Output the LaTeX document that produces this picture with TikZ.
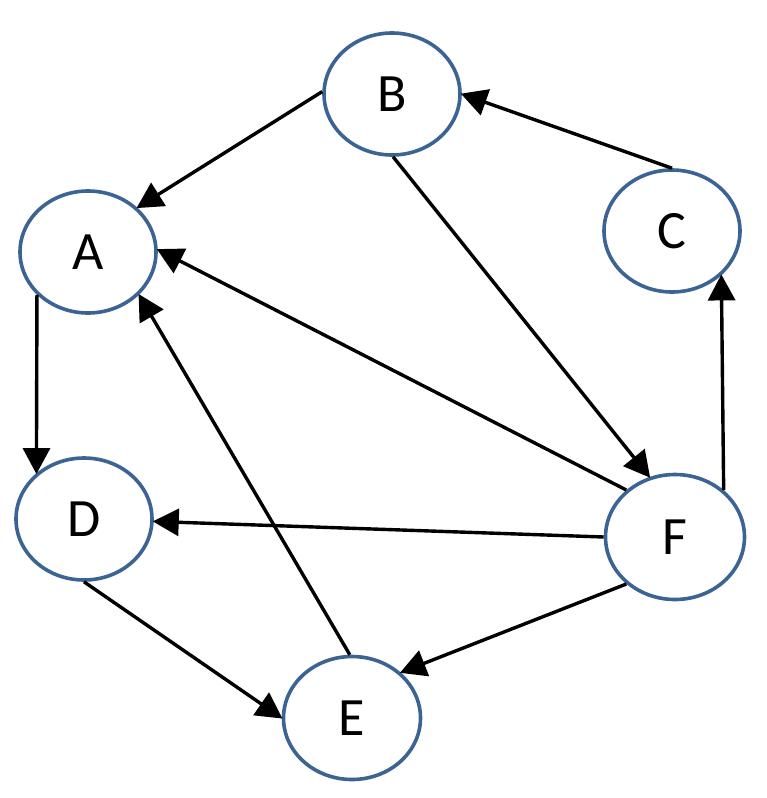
\documentclass[tikz,border=0pt]{standalone}
\usepackage{fontspec}
\setmainfont{Carlito}
\usetikzlibrary{shapes.geometric,arrows.meta}
\definecolor{nodeblue}{HTML}{3B6494}
\tikzset{
  vtx/.style={ellipse,draw=nodeblue,line width=3.6pt,fill=white,minimum width=136pt,minimum height=122pt,inner sep=0pt,font=\fontsize{54}{54}\selectfont},
  arr/.style={line width=3.4pt,-{Triangle[length=26pt,width=27pt]},shorten >=-1pt}
}
\begin{document}
\begin{tikzpicture}[x=1pt,y=-1pt]
\useasboundingbox (0,0) rectangle (766,798);
\node[vtx] (B) at (392,94) {B};
\node[vtx] (A) at (88,252) {A};
\node[vtx] (C) at (672,231) {C};
\node[vtx] (D) at (84,519) {D};
\node[vtx,minimum width=139pt,minimum height=125pt] (F) at (675,537) {F};
\node[vtx,minimum width=137pt,minimum height=123pt] (E) at (352,718) {E};
\draw[arr] (B.178) -- (A.42);
\draw[arr] (C.90) -- (B.0);
\draw[arr] (B.-89) -- (F.113);
\draw[arr] (F.136) -- (A.2);
\draw[arr] (E.92) -- (A.-40);
\draw[arr] (A.220) -- (D.136);
\draw[arr] (F.180) -- (D.358);
\draw[arr] (D.270) -- (E.180);
\draw[arr] (F.224) -- (E.43);
\draw[arr] (F.44) -- (C.318);
\end{tikzpicture}
\end{document}
